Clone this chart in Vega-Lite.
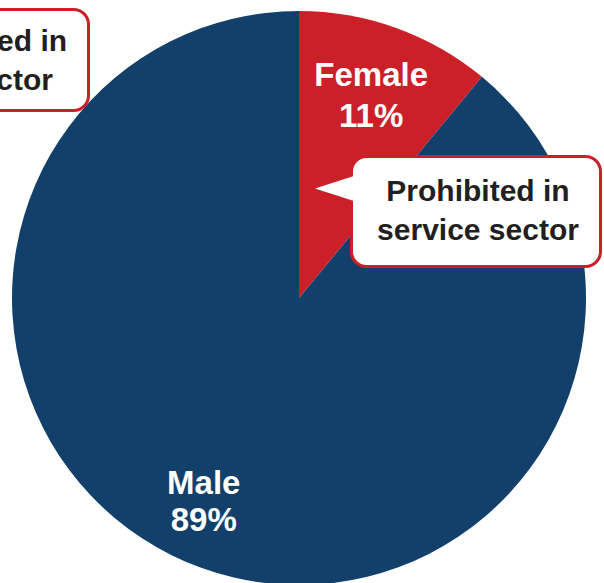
{
  "$schema": "https://vega.github.io/schema/vega-lite/v6.json",
  "width": 604,
  "height": 583,
  "autosize": {"type": "none"},
  "padding": 0,
  "background": "white",
  "config": {"view": {"stroke": null}, "font": "Liberation Sans"},
  "datasets": {
    "shares": [
      {"sex": "Female", "share": 11, "label": "Female\n11%"},
      {"sex": "Male", "share": 89, "label": "Male\n89%"}
    ],
    "callouts": [
      {"panel": "left", "callout": "Not restricted in\nservice sector"},
      {"panel": "right", "callout": "Prohibited in\nservice sector"}
    ]
  },
  "layer": [
    {
      "data": {"name": "shares"},
      "mark": {"type": "arc", "outerRadius": 287},
      "encoding": {
        "x": {"datum": 0, "type": "quantitative", "scale": {"domain": [-104.18, 106.27], "nice": false, "zero": false}, "axis": null},
        "y": {"datum": 0, "type": "quantitative", "scale": {"domain": [-99.3, 103.83], "nice": false, "zero": false}, "axis": null},
        "theta": {"field": "share", "type": "quantitative", "stack": true},
        "color": {"field": "sex", "type": "nominal", "scale": {"domain": ["Female", "Male"], "range": ["#CC2029", "#12406A"]}, "legend": null}
      }
    },
    {
      "data": {"name": "shares"},
      "mark": {"type": "text", "radius": 213, "dy": -22, "fontSize": 33, "fontWeight": "bold", "fill": "white", "lineBreak": "\n", "lineHeight": 41, "align": "center", "baseline": "middle"},
      "encoding": {
        "x": {"datum": 0, "type": "quantitative", "scale": {"domain": [-104.18, 106.27], "nice": false, "zero": false}, "axis": null},
        "y": {"datum": 0, "type": "quantitative", "scale": {"domain": [-99.3, 103.83], "nice": false, "zero": false}, "axis": null},
        "theta": {"field": "share", "type": "quantitative", "stack": true},
        "detail": {"field": "sex", "type": "nominal"},
        "text": {"condition": {"test": "datum.sex === 'Female'", "field": "label"}, "value": ""}
      }
    },
    {
      "data": {"name": "shares"},
      "mark": {"type": "text", "radius": 225, "dx": -19, "dy": -26, "fontSize": 33, "fontWeight": "bold", "fill": "white", "lineBreak": "\n", "lineHeight": 37, "align": "center", "baseline": "middle"},
      "encoding": {
        "x": {"datum": 0, "type": "quantitative", "scale": {"domain": [-104.18, 106.27], "nice": false, "zero": false}, "axis": null},
        "y": {"datum": 0, "type": "quantitative", "scale": {"domain": [-99.3, 103.83], "nice": false, "zero": false}, "axis": null},
        "theta": {"field": "share", "type": "quantitative", "stack": true},
        "detail": {"field": "sex", "type": "nominal"},
        "text": {"condition": {"test": "datum.sex === 'Male'", "field": "label"}, "value": ""}
      }
    },
    {
      "data": {"name": "callouts"},
      "transform": [{"filter": "datum.panel === 'left'"}],
      "layer": [
        {
          "mark": {"type": "rect", "fill": "white", "stroke": "#CC2029", "strokeWidth": 3, "cornerRadius": 15},
          "encoding": {
            "x": {"datum": -180.1, "type": "quantitative", "scale": {"domain": [-104.18, 106.27], "nice": false, "zero": false}, "axis": null},
            "x2": {"datum": -73.34},
            "y": {"datum": 100.52, "type": "quantitative", "scale": {"domain": [-99.3, 103.83], "nice": false, "zero": false}, "axis": null},
            "y2": {"datum": 65.33}
          }
        },
        {
          "mark": {"type": "text", "fontSize": 30, "fontWeight": "bold", "fill": "#231F20", "lineBreak": "\n", "lineHeight": 39, "align": "center", "baseline": "middle"},
          "encoding": {
            "x": {"datum": -120.9, "type": "quantitative", "scale": {"domain": [-104.18, 106.27], "nice": false, "zero": false}, "axis": null},
            "y": {"datum": 89.2, "type": "quantitative", "scale": {"domain": [-99.3, 103.83], "nice": false, "zero": false}, "axis": null},
            "text": {"field": "callout"}
          }
        }
      ]
    },
    {
      "data": {"name": "callouts"},
      "transform": [{"filter": "datum.panel === 'right'"}],
      "layer": [
        {
          "mark": {"type": "rect", "fill": "white", "stroke": "#CC2029", "strokeWidth": 3, "cornerRadius": 15},
          "encoding": {
            "x": {"datum": 18.29, "type": "quantitative", "scale": {"domain": [-104.18, 106.27], "nice": false, "zero": false}, "axis": null},
            "x2": {"datum": 105.05},
            "y": {"datum": 49.3, "type": "quantitative", "scale": {"domain": [-99.3, 103.83], "nice": false, "zero": false}, "axis": null},
            "y2": {"datum": 10.98}
          }
        },
        {
          "mark": {"type": "point", "shape": "M -1 0 L 1 -0.643 L 1 0.643 Z", "filled": true, "fill": "white", "opacity": 1, "size": 1764, "strokeWidth": 0},
          "encoding": {
            "x": {"datum": 12.89, "type": "quantitative", "scale": {"domain": [-104.18, 106.27], "nice": false, "zero": false}, "axis": null},
            "y": {"datum": 38.15, "type": "quantitative", "scale": {"domain": [-99.3, 103.83], "nice": false, "zero": false}, "axis": null}
          }
        },
        {
          "mark": {"type": "text", "fontSize": 30, "fontWeight": "bold", "fill": "#231F20", "lineBreak": "\n", "lineHeight": 39, "align": "center", "baseline": "middle"},
          "encoding": {
            "x": {"datum": 62.37, "type": "quantitative", "scale": {"domain": [-104.18, 106.27], "nice": false, "zero": false}, "axis": null},
            "y": {"datum": 36.76, "type": "quantitative", "scale": {"domain": [-99.3, 103.83], "nice": false, "zero": false}, "axis": null},
            "text": {"field": "callout"}
          }
        }
      ]
    }
  ]
}
